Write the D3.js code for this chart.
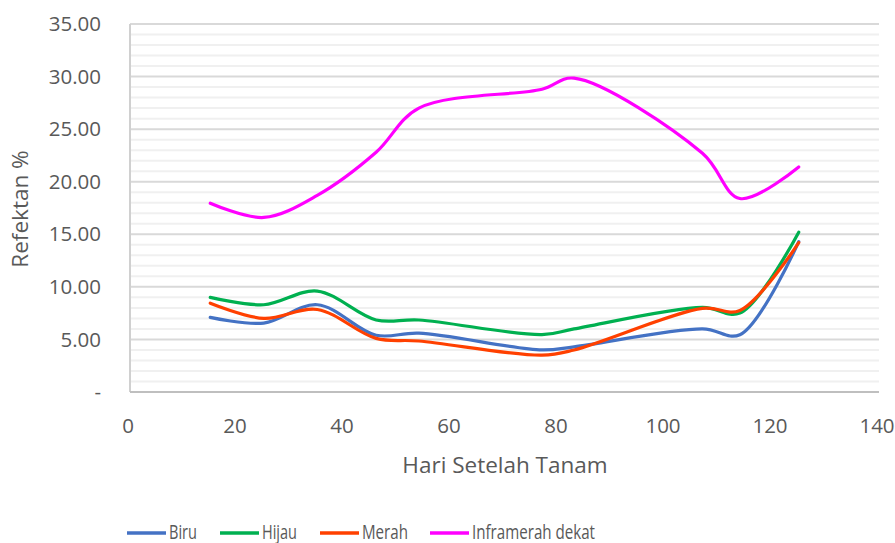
<!DOCTYPE html>
<html><head><meta charset="utf-8">
<script src="https://cdn.jsdelivr.net/npm/d3@7"></script>
<style>body{margin:0;background:#fff}svg{display:block}text{font-family:"Open Sans","Noto Sans",sans-serif;fill:#595959}</style>
</head><body><svg id="c" width="895" height="543"></svg>
<script>
const days = [15, 25, 35, 46, 54, 77, 83, 107, 114, 125];
const biru = [7.1, 6.55, 8.3, 5.4, 5.6, 4.0, 4.3, 6.0, 5.45, 14.3];
const hijau = [9.0, 8.3, 9.6, 6.85, 6.85, 5.45, 6.0, 8.05, 7.5, 15.2];
const merah = [8.45, 7.0, 7.85, 5.1, 4.85, 3.5, 4.0, 7.95, 7.75, 14.2];
const inframerah = [17.95, 16.6, 18.7, 22.8, 27.0, 28.8, 29.85, 22.7, 18.4, 21.4];
const seriesNames = ["Biru", "Hijau", "Merah", "Inframerah dekat"];
const seriesColors = ["#4472C4", "#00B050", "#FF4000", "#FF00FF"];
const xTicks = [0, 20, 40, 60, 80, 100, 120, 140];
const yTicks = [0, 5, 10, 15, 20, 25, 30, 35];
const yLabels = ["-", "5.00", "10.00", "15.00", "20.00", "25.00", "30.00", "35.00"];

const svg = d3.select("#c");
const x = d3.scaleLinear().domain([0, 140]).range([130, 879]);
const y = d3.scaleLinear().domain([0, 35]).range([392, 24]);

const g = svg.append("g");
g.selectAll("line.minor").data(d3.range(1, 35).filter(v => v % 5 !== 0)).join("line")
  .attr("x1", x(0)).attr("x2", x(140)).attr("y1", d => y(d)).attr("y2", d => y(d))
  .attr("stroke", "#f0f0f0").attr("stroke-width", 2);
g.selectAll("line.major").data(yTicks.filter(v => v > 0)).join("line")
  .attr("x1", x(0)).attr("x2", x(140)).attr("y1", d => y(d)).attr("y2", d => y(d))
  .attr("stroke", "#d9d9d9").attr("stroke-width", 2);

svg.append("line").attr("x1", x(0)).attr("x2", x(0)).attr("y1", y(35)).attr("y2", y(0))
  .attr("stroke", "#d0d0d0").attr("stroke-width", 2);
svg.append("line").attr("x1", x(0)).attr("x2", x(140)).attr("y1", y(0)).attr("y2", y(0))
  .attr("stroke", "#bfbfbf").attr("stroke-width", 2);

svg.selectAll("text.yl").data(yTicks).join("text")
  .attr("x", 101).attr("y", d => y(d)).attr("dy", "0.35em")
  .attr("text-anchor", "end").attr("font-size", 20.5)
  .text((d, i) => yLabels[i]);
svg.selectAll("text.xl").data(xTicks).join("text")
  .attr("x", d => x(d) - 2).attr("y", 433)
  .attr("text-anchor", "middle").attr("font-size", 20.5)
  .text(d => d);

svg.append("text").attr("transform", "translate(28,209) rotate(-90)")
  .attr("text-anchor", "middle").attr("font-size", 22.5).text("Refektan %");
svg.append("text").attr("x", 505).attr("y", 473)
  .attr("text-anchor", "middle").attr("font-size", 22.5).text("Hari Setelah Tanam");

const allSeries = [biru, hijau, merah, inframerah];
const line = d3.line().x(d => x(d[0])).y(d => y(d[1])).curve(d3.curveCatmullRom.alpha(0.5));
allSeries.forEach((vals, i) => {
  svg.append("path").datum(days.map((d, j) => [d, vals[j]]))
    .attr("d", line).attr("fill", "none").attr("stroke", seriesColors[i])
    .attr("stroke-width", 3.2).attr("stroke-linecap", "round");
});

const legX = [127, 220, 320, 430];
const legW = [28, 35, 46, 123];
seriesNames.forEach((n, i) => {
  svg.append("line").attr("x1", legX[i]).attr("x2", legX[i] + 39)
    .attr("y1", 533).attr("y2", 533).attr("stroke", seriesColors[i]).attr("stroke-width", 3.5);
  svg.append("text").attr("x", legX[i] + 42).attr("y", 538.5).attr("font-size", 20)
    .attr("textLength", legW[i]).attr("lengthAdjust", "spacingAndGlyphs").text(n);
});
</script></body></html>
